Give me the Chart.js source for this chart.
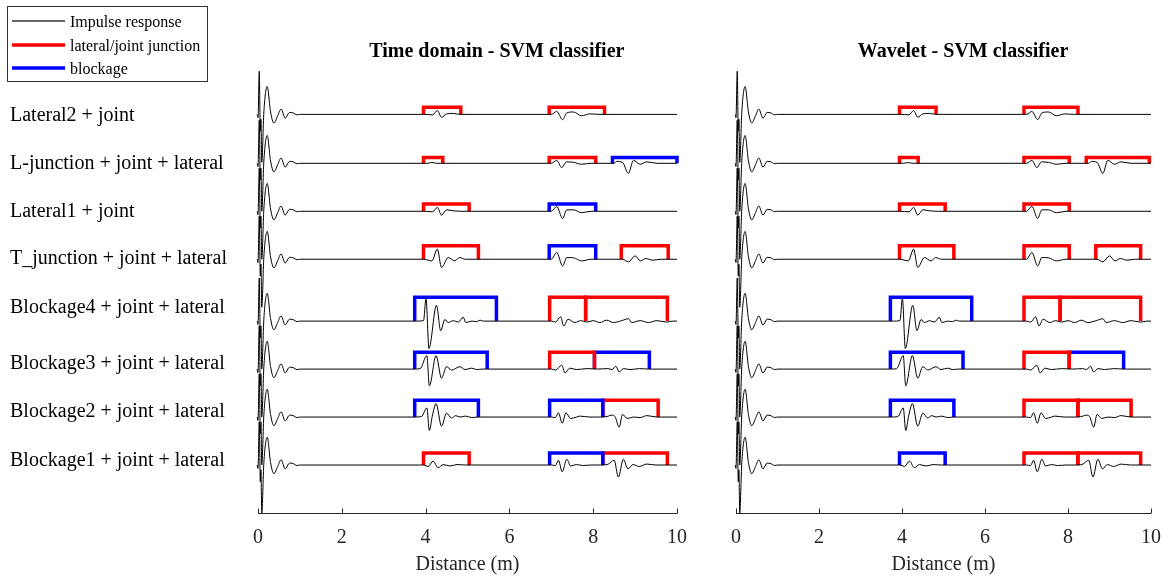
<!DOCTYPE html>
<html>
<head>
<meta charset="utf-8">
<script src="https://cdn.jsdelivr.net/npm/chart.js@4.4.1/dist/chart.umd.min.js"></script>
<style>
  html, body { margin: 0; padding: 0; background: #fff; }
  .box { position: absolute; top: 0; height: 576px; }
</style>
</head>
<body>
<div class="box" style="left:0;width:700px"><canvas id="timeChart"></canvas></div>
<div class="box" style="left:700px;width:474px"><canvas id="waveChart"></canvas></div>
<script>
const rowLabels = [
  "Lateral2 + joint",
  "L-junction + joint + lateral",
  "Lateral1 + joint",
  "T_junction + joint + lateral",
  "Blockage4 + joint + lateral",
  "Blockage3 + joint + lateral",
  "Blockage2 + joint + lateral",
  "Blockage1 + joint + lateral"
];
// vertical offset of each trace (y units)
const rowOffsets = [8.31, 7.29, 6.29, 5.29, 4.0, 3.0, 2.0, 1.0];
const labelY = [8.29, 7.29, 6.29, 5.31, 4.27, 3.11, 2.11, 1.08];
const bracketHeights = [0.15, 0.12, 0.15, 0.28, 0.5, 0.35, 0.35, 0.25];

// incident pulse, same in every row: [distance, amplitude]
const incident = [[-0.02, 0], [0, -0.07], [0.03, 0.9], [0.055, -0.35], [0.07, -0.1], [0.09, -1.0],
  [0.14, 0.05], [0.22, 0.58], [0.30, 0.05], [0.38, -0.18], [0.47, -0.03], [0.55, 0.11],
  [0.65, -0.08], [0.75, 0.04], [0.84, 0.03], [0.93, -0.01], [1.0, 0]];

// reflections per row: [distance, amplitude]
const echoes = [
  [[3.95,0],[4.17,-0.01],[4.28,0.08],[4.38,-0.06],[4.5,0.01],[4.66,0.02],[4.81,0],[7.0,0],[7.13,0.06],[7.27,-0.11],[7.37,0.03],[7.53,0.05],[7.72,-0.03],[7.92,0.01],[8.16,0]],
  [[4.03,0],[4.15,0.015],[4.27,0],[7.0,0],[7.13,0.06],[7.25,-0.09],[7.36,0.03],[7.53,0.02],[7.72,-0.02],[7.95,0],[8.5,0],[8.56,0.04],[8.7,0.02],[8.84,-0.21],[8.96,0.06],[9.12,-0.02],[9.28,0.03],[9.52,0]],
  [[3.95,0],[4.17,-0.01],[4.28,0.08],[4.38,-0.08],[4.5,0.03],[4.66,0.01],[4.85,0],[7.0,0],[7.13,0.1],[7.27,-0.15],[7.37,0.03],[7.53,0.03],[7.72,-0.03],[7.95,0]],
  [[3.95,0],[4.15,-0.035],[4.28,0.21],[4.38,-0.17],[4.54,0.035],[4.7,-0.035],[4.81,0.035],[4.95,0],[7.0,0],[7.13,0.14],[7.27,-0.14],[7.37,0.035],[7.53,0.03],[7.72,-0.035],[7.95,0],[8.7,0],[8.84,-0.055],[9.0,0.07],[9.13,-0.035],[9.26,0.015],[9.42,-0.02],[9.62,0]],
  [[3.79,0],[3.95,0.01],[4.01,0.47],[4.08,-0.57],[4.26,0.33],[4.36,-0.2],[4.46,0.035],[4.54,-0.03],[4.66,0.01],[4.78,-0.02],[4.9,0.08],[4.96,-0.03],[5.1,0],[5.22,-0.01],[5.3,0.02],[5.38,0],[7.0,0],[7.1,-0.02],[7.22,0.09],[7.3,-0.1],[7.4,0.04],[7.56,-0.03],[7.7,0.01],[7.85,-0.02],[8.0,0.01],[8.16,-0.03],[8.32,0.02],[8.48,-0.03],[8.68,0.01],[8.84,0.05],[8.92,-0.03],[9.12,0.01],[9.32,-0.03],[9.52,0.01],[9.75,-0.02],[9.9,0]],
  [[3.74,0],[3.87,0.01],[4.03,0.28],[4.09,-0.35],[4.25,0.28],[4.38,-0.19],[4.5,0.05],[4.62,-0.02],[4.82,0.05],[4.94,-0.01],[5.1,0.02],[5.22,-0.01],[5.35,0],[7.0,0],[7.1,-0.02],[7.25,0.08],[7.33,-0.08],[7.44,0.02],[7.6,-0.01],[7.85,0.01],[8.1,0],[8.35,0.01],[8.45,-0.01],[8.54,0.06],[8.62,-0.06],[8.72,0.01],[8.88,-0.01],[9.1,0.01],[9.35,0]],
  [[3.74,0],[3.9,0.01],[4.03,0.19],[4.09,-0.28],[4.16,0.02],[4.25,0.28],[4.38,-0.19],[4.5,0.08],[4.62,-0.02],[4.72,0.03],[4.82,0],[4.95,0.02],[5.1,-0.01],[5.25,0],[7.0,0],[7.1,-0.01],[7.17,0.09],[7.26,-0.13],[7.35,0.09],[7.46,-0.03],[7.6,0],[7.68,0.02],[7.92,0],[8.24,0],[8.36,0.02],[8.44,0.04],[8.52,0.01],[8.62,-0.21],[8.7,0.055],[8.81,-0.03],[8.96,0],[9.12,-0.01],[9.28,0.03],[9.52,0]],
  [[3.95,0],[4.06,-0.03],[4.18,0.08],[4.3,-0.055],[4.42,0.01],[4.58,-0.02],[4.75,0.01],[4.95,0],[7.0,0],[7.1,-0.01],[7.17,0.1],[7.26,-0.14],[7.37,0.12],[7.46,-0.02],[7.6,0.01],[7.75,-0.01],[7.95,0],[8.24,0],[8.36,0.02],[8.5,0.1],[8.6,-0.25],[8.72,0.12],[8.83,-0.08],[8.95,0.01],[9.1,-0.03],[9.28,0.02],[9.5,0]]
];

// detected regions: [start, end, class]  r = lateral/joint junction, b = blockage
const timeBrackets = [
  [[3.95,4.84,"r"],[6.95,8.27,"r"]],
  [[3.95,4.41,"r"],[6.95,8.06,"r"],[8.46,10.0,"b"]],
  [[3.95,5.04,"r"],[6.95,8.06,"b"]],
  [[3.95,5.26,"r"],[6.95,8.06,"b"],[8.67,9.79,"r"]],
  [[3.74,5.69,"b"],[6.96,7.82,"r"],[7.82,9.77,"r"]],
  [[3.74,5.47,"b"],[6.96,8.03,"r"],[8.03,9.34,"b"]],
  [[3.74,5.26,"b"],[6.96,8.23,"b"],[8.23,9.55,"r"]],
  [[3.95,5.04,"r"],[6.96,8.23,"b"],[8.23,9.77,"r"]]
];
const waveletBrackets = [
  [[3.94,4.82,"r"],[6.94,8.24,"r"]],
  [[3.94,4.39,"r"],[6.94,8.03,"r"],[8.44,9.96,"r"]],
  [[3.94,5.04,"r"],[6.94,8.03,"r"]],
  [[3.94,5.25,"r"],[6.94,8.03,"r"],[8.67,9.75,"r"]],
  [[3.72,5.68,"b"],[6.94,7.81,"r"],[7.81,9.75,"r"]],
  [[3.72,5.47,"b"],[6.94,8.03,"r"],[8.03,9.34,"b"]],
  [[3.72,5.25,"b"],[6.94,8.24,"r"],[8.24,9.52,"r"]],
  [[3.94,5.04,"b"],[6.94,8.24,"r"],[8.24,9.75,"r"]]
];

const legendItems = [
  ["Impulse response", "#333333", 1.5],
  ["lateral/joint junction", "#ff0000", 3.5],
  ["blockage", "#0000ff", 3.5]
];

const serif = "'Liberation Serif', 'Times New Roman', serif";
const axisColor = "#262626";
const colors = { r: "#ff0000", b: "#0000ff" };

function traceData(row) {
  const base = rowOffsets[row];
  const pts = incident.concat(echoes[row]).map(([x, dy]) => ({ x: x, y: base + dy }));
  pts.push({ x: 10, y: base });
  return pts;
}

function buildDatasets(brackets) {
  const sets = [];
  rowLabels.forEach((lbl, i) => {
    sets.push({
      label: lbl,
      data: traceData(i),
      borderColor: "#000",
      borderWidth: 1,
      pointRadius: 0,
      cubicInterpolationMode: "monotone",
      clip: false
    });
  });
  brackets.forEach((row, i) => {
    const base = rowOffsets[i];
    const top = base + bracketHeights[i];
    row.forEach(([x0, x1, c]) => {
      sets.push({
        data: [{ x: x0, y: base }, { x: x0, y: top }, { x: x1, y: top }, { x: x1, y: base }],
        borderColor: colors[c],
        borderWidth: 3.5,
        pointRadius: 0,
        tension: 0,
        borderJoinStyle: "miter",
        clip: false
      });
    });
  });
  return sets;
}

const axisDecor = {
  id: "axisDecor",
  afterDraw(chart, args, opts) {
    const ctx = chart.ctx;
    const xs = chart.scales.x;
    const ys = chart.scales.y;
    const yb = Math.round(chart.chartArea.bottom) + 0.5;
    ctx.save();
    ctx.strokeStyle = axisColor;
    ctx.lineWidth = 1;
    ctx.beginPath();
    ctx.moveTo(xs.left, yb);
    ctx.lineTo(xs.right, yb);
    xs.ticks.forEach(t => {
      const px = Math.round(xs.getPixelForValue(t.value)) + 0.5;
      ctx.moveTo(px, yb);
      ctx.lineTo(px, yb - 5);
    });
    ctx.stroke();

    // panel title
    ctx.fillStyle = "#000";
    ctx.font = "bold 20px " + serif;
    ctx.textAlign = "center";
    ctx.textBaseline = "middle";
    ctx.fillText(opts.title, xs.getPixelForValue(opts.titleX), 52);

    if (opts.labels) {
      ctx.font = "20px " + serif;
      ctx.textAlign = "left";
      rowLabels.forEach((lbl, i) => {
        ctx.fillText(lbl, 10, ys.getPixelForValue(labelY[i]));
      });

      // legend
      ctx.strokeStyle = "#333";
      ctx.lineWidth = 1;
      ctx.strokeRect(7.5, 6.5, 200, 75);
      ctx.font = "16px " + serif;
      const rowsY = [21, 45, 68];
      legendItems.forEach(([txt, col, w], i) => {
        ctx.strokeStyle = col;
        ctx.lineWidth = w;
        ctx.beginPath();
        ctx.moveTo(12, rowsY[i]);
        ctx.lineTo(65, rowsY[i]);
        ctx.stroke();
        ctx.fillText(txt, 70, rowsY[i] + 1.5);
      });
    }
    ctx.restore();
  }
};

function makeChart(id, title, titleX, brackets, padLeft, padRight, withLabels) {
  return new Chart(document.getElementById(id), {
    type: "line",
    data: { datasets: buildDatasets(brackets) },
    options: {
      responsive: true,
      maintainAspectRatio: false,
      animation: false,
      devicePixelRatio: 1,
      layout: { padding: { left: padLeft, right: padRight, top: 64, bottom: 0 } },
      plugins: {
        legend: { display: false },
        tooltip: { enabled: false },
        title: { display: false },
        axisDecor: { labels: withLabels, title: title, titleX: titleX }
      },
      scales: {
        x: {
          type: "linear",
          min: 0,
          max: 10,
          grid: { display: false, drawTicks: false },
          border: { display: false },
          ticks: {
            stepSize: 2,
            padding: 13,
            color: axisColor,
            font: { family: serif, size: 20 }
          },
          title: {
            display: true,
            text: "Distance (m)",
            color: axisColor,
            font: { family: serif, size: 20, lineHeight: 1.1 },
            padding: { top: 0, bottom: 0 }
          },
          afterFit: s => { s.height = 63; }
        },
        y: { display: false, min: 0, max: 9.36 }
      }
    },
    plugins: [axisDecor]
  });
}

makeChart("timeChart", "Time domain - SVM classifier", 5.7, timeBrackets, 258, 23, true);
makeChart("waveChart", "Wavelet - SVM classifier", 5.47, waveletBrackets, 36, 19, false);
</script>
</body>
</html>
